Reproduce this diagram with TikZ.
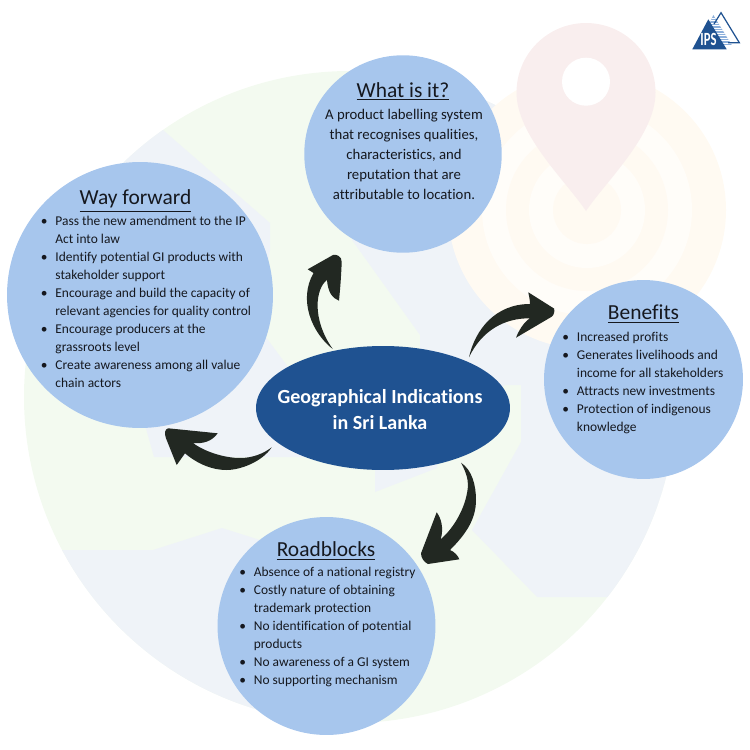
\documentclass[tikz,border=0pt]{standalone}
\usepackage{fontspec}
\setmainfont[RawFeature=-liga]{Carlito}
\usetikzlibrary{calc,positioning,shapes.geometric}
\definecolor{bubbleblue}{HTML}{A7C6ED}
\definecolor{hubblue}{HTML}{1F5291}
\definecolor{brushdark}{HTML}{222822}
\definecolor{mapgreen}{HTML}{F3FAF0}
\definecolor{mapblue}{HTML}{EFF3F8}
\definecolor{ringdark}{HTML}{FFFAF2}
\definecolor{ringlight}{HTML}{FFFDF9}
\definecolor{pinpink}{HTML}{F9EEEE}
\definecolor{textdark}{HTML}{15181F}
\newcommand{\gibul}{\makebox[8.3pt][l]{\raisebox{0.2pt}{\textbullet}}}
\newcommand{\gihang}{\hspace*{8.3pt}}
\begin{document}
\begin{tikzpicture}[
    x=0.02cm, y=-0.02cm,
    bubble/.style={circle, fill=bubbleblue, minimum size=#1, inner sep=0pt},
    headline/.style={inner sep=0pt, text=textdark, font=\fontsize{12.2}{15}\selectfont},
    bodytext/.style={inner sep=0pt, text=textdark, align=left, anchor=north west, font=\fontsize{7.65}{10.25}\selectfont},
    brush/.style={fill=brushdark}
]
\useasboundingbox (0,0) rectangle (750,750);
% map behind everything
\fill[mapgreen] (350,397) circle[radius=326];
\begin{scope}
\clip (350,397) circle[radius=326];
\fill[mapblue] (163,130) -- (270,223) -- (270,250) -- (258,326.5) -- (320,410) -- (320,457) -- (154,457) -- (145,425) -- (50,380) -- (20,300) -- (100,100) -- cycle;
\fill[mapblue] (495,60) -- (403,150) -- (352,240) -- (420,335) -- (420,400) -- (375,470) -- (375,492) -- (437,468) -- (440,440) -- (505,385) -- (521,385) -- (521,442) -- (472,530) -- (537,597) -- (720,597) -- (720,100) -- (640,60) -- cycle;
\fill[mapblue] (30,550) -- (153,550) -- (222,528) -- (260,540) -- (300,600) -- (290,725) -- (100,750) -- (0,650) -- cycle;
\end{scope}
% target rings and pin
\fill[ringdark] (587,210) circle[radius=139];
\fill[ringlight] (587,210) circle[radius=105];
\fill[ringdark] (587,210) circle[radius=81];
\fill[ringlight] (587,210) circle[radius=58];
\fill[ringdark] (587,210) circle[radius=34];
\fill[pinpink] (586,211) .. controls (565,180) and (516.5,135) .. (516.5,92.5) arc[start angle=180, end angle=360, radius=69.5] .. controls (655.5,135) and (607,180) .. (586,211) -- cycle;
\fill[white] (586,81.7) circle[radius=24];
% logo
\begin{scope}
\clip (713.3,15) -- (731.7,45) -- (700,45) -- cycle;
\fill[bubbleblue!80!hubblue] (690,12) rectangle (740,46);
\foreach \stripe in {18,20.5,...,45}
    \draw[white, line width=0.35pt] (690,\stripe) -- (740,\stripe);
\end{scope}
\draw[hubblue, line width=0.7pt] (714,24) -- (721,12.7) -- (739.3,42.7) -- (728,42.7);
\fill[hubblue] (692.3,49.3) -- (708.3,19.3) -- (726.7,49.3) -- cycle;
\node[inner sep=0pt, text=white, xscale=0.68, transform shape, font=\bfseries\fontsize{10.6}{11}\selectfont] (logotext) at (708.5,39.5) {IPS};
% bubbles
\node[bubble=3.95cm] (what) at (403,154) {};
\node[bubble=5.32cm] (forward) at (140,295) {};
\node[bubble=3.98cm] (benefits) at (643.5,379.5) {};
\node[bubble=4.36cm] (road) at (326.5,626) {};
\node[ellipse, fill=hubblue, minimum width=5.08cm, minimum height=2.48cm, inner sep=0pt] (hub) at (383,408) {};
\node[inner sep=0pt, align=center, text=white, font=\bfseries\fontsize{11.4}{14.8}\selectfont] (hubtext) at (380,409.5) {Geographical Indications\\in Sri Lanka};
% what is it
\node[headline] (whathead) at (403,91.5) {\underline{What is it?}};
\node[bodytext, align=center, anchor=north, font=\fontsize{8.4}{11.4}\selectfont] (whatbody) at (404,109) {A product labelling system\\that recognises qualities,\\characteristics, and\\reputation that are\\attributable to location.};
% way forward
\node[headline] (forwardhead) at (135.5,201) {\underline{Way forward}};
\node[bodytext] (forwardbody) at (40.5,216) {\gibul Pass the new amendment to the IP\\\gihang Act into law\\\gibul Identify potential GI products with\\\gihang stakeholder support\\\gibul Encourage and build the capacity of\\\gihang relevant agencies for quality control\\\gibul Encourage producers at the\\\gihang grassroots level\\\gibul Create awareness among all value\\\gihang chain actors};
% benefits
\node[headline] (benefitshead) at (643.5,314) {\underline{Benefits}};
\node[bodytext] (benefitsbody) at (562,332) {\gibul Increased profits\\\gibul Generates livelihoods and\\\gihang income for all stakeholders\\\gibul Attracts new investments\\\gibul Protection of indigenous\\\gihang knowledge};
% roadblocks
\node[headline] (roadhead) at (326,551) {\underline{Roadblocks}};
\node[bodytext] (roadbody) at (239,567) {\gibul Absence of a national registry\\\gibul Costly nature of obtaining\\\gihang trademark protection\\\gibul No identification of potential\\\gihang products\\\gibul No awareness of a GI system\\\gibul No supporting mechanism};
% arrows out of the hub
\coordinate (tailup) at ($(hub.center)+(-50.3,-59)$);
\coordinate (tipup) at ($(what.center)+(-70,101)$);
\coordinate (tailright) at ($(hub.center)+(86,-50.7)$);
\coordinate (tipright) at ($(benefits.center)+(-89.5,-71)$);
\coordinate (tailleft) at ($(hub.center)+(-111.3,39.3)$);
\coordinate (tipleft) at ($(forward.center)+(26,143.3)$);
\coordinate (taildown) at ($(hub.center)+(78,54.7)$);
\coordinate (tipdown) at ($(road.center)+(94.5,-72.7)$);
\fill[brush] (tailup) .. controls (312,333) and (298,300) .. (313.5,273) -- (307.7,269.3) -- (tipup) .. controls (336,254) and (342,256) .. (341.7,262) .. controls (341,280) and (340,290) .. (339,300.7) .. controls (332,298) and (328,292) .. (327,280) .. controls (316,288) and (311,318) .. (tailup) -- cycle;
\fill[brush] (tailright) .. controls (475,330) and (495,304) .. (530,304) .. controls (530,300) and (529,296) .. (528.3,292.3) -- (tipright) .. controls (555,311) and (554,315) .. (551.7,316.7) -- (516,337.7) .. controls (519,330) and (524,322) .. (530,318.3) .. controls (505,318) and (482,330) .. (tailright) -- cycle;
\fill[brush] (tailleft) .. controls (262,462) and (240,470) .. (226.7,470) .. controls (210,470) and (195,462) .. (185,453.3) -- (176.7,465) -- (tipleft) .. controls (164,433) and (165,429) .. (168.3,428.3) -- (217.7,433.3) .. controls (212,441) and (204,444) .. (193,443) .. controls (205,452) and (225,458) .. (240,458) .. controls (252,458) and (263,454) .. (tailleft) -- cycle;
\fill[brush] (taildown) .. controls (472,470) and (476,485) .. (476,500) .. controls (476,520) and (465,535) .. (450,550) .. controls (455,552) and (458,556) .. (459.3,559.3) -- (428,564) .. controls (424,562) and (421,558) .. (tipdown) -- (436.7,512.3) .. controls (441,518) and (444,528) .. (440.7,539.3) .. controls (455,527) and (467,505) .. (468,485) .. controls (468,478) and (465,470) .. (taildown) -- cycle;
\end{tikzpicture}
\end{document}
